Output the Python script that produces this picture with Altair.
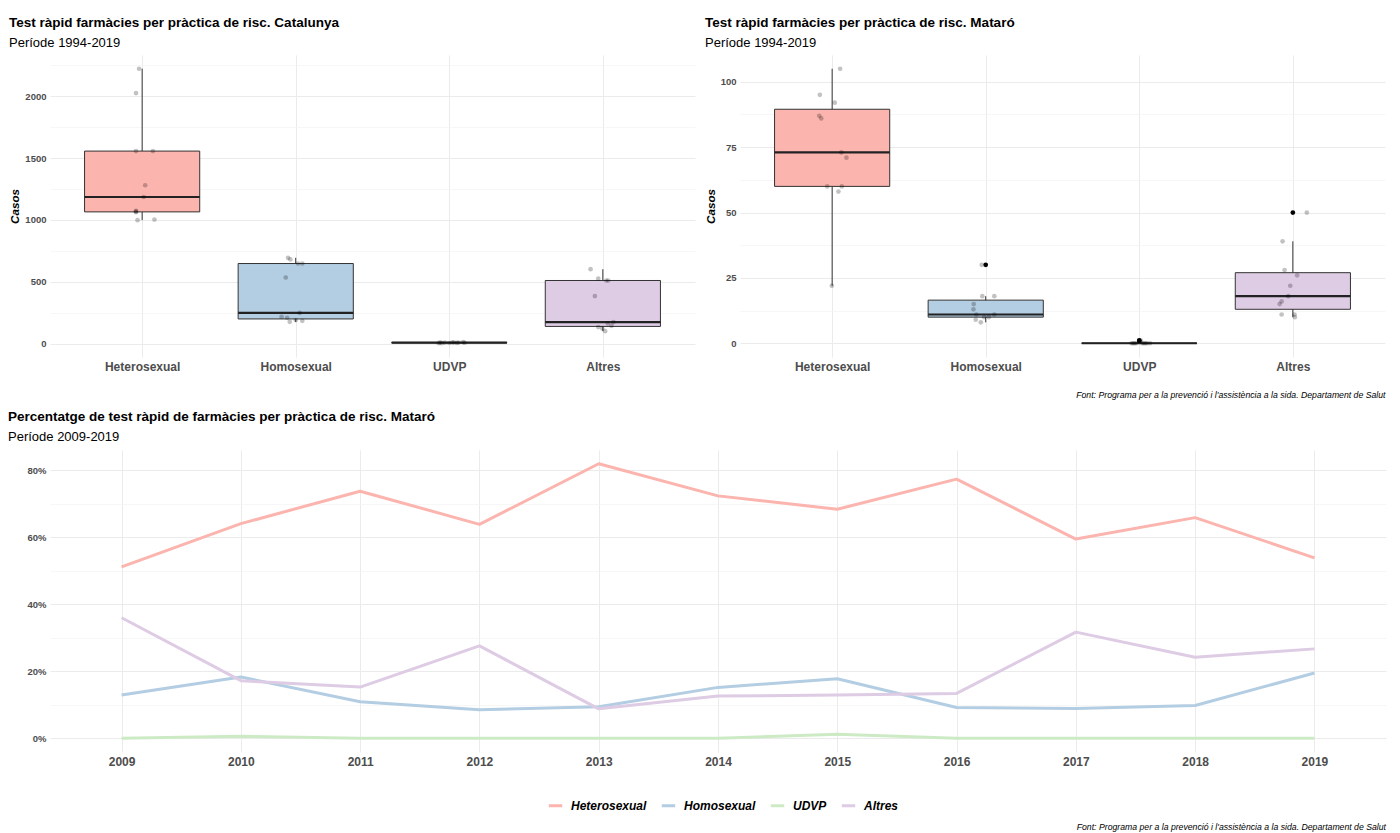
import altair as alt
import numpy as np
import pandas as pd

FONT = "Liberation Sans, Arial, sans-serif"
CATS = ["Heterosexual", "Homosexual", "UDVP", "Altres"]
COLORS = ["#FBB4AE", "#B3CDE3", "#CCEBC5", "#DECBE4"]
FOOT = "Font: Programa per a la prevenció i l'assistència a la sida. Departament de Salut"

# ---- Catalunya (cases per year, 11 points per group) ----
cat_hetero = [2221, 2024, 1556, 1556, 1280, 1185, 1073, 1068, 1062, 998, 1003]
cat_homo = [694, 681, 648, 648, 535, 250, 218, 210, 177, 191, 185]
cat_udvp = [4, 5, 6, 7, 8, 9, 10, 10, 11, 12, 14]
cat_altres = [602, 527, 511, 511, 385, 164, 175, 145, 135, 124, 102]
# horizontal jitter (category units)
cat_hetero_jit = [-0.02, -0.04, -0.04, 0.07, 0.02, 0.01, -0.04, -0.04, -0.04, -0.03, 0.08]
cat_homo_jit = [-0.05, -0.035, 0.015, 0.043, -0.065, 0.026, -0.092, -0.056, -0.039, 0.0, 0.043]
cat_udvp_jit = [-0.07, -0.05, 0.0, 0.05, 0.1, -0.03, 0.03, 0.06, -0.06, 0.02, 0.09]
cat_altres_jit = [-0.08, -0.03, 0.022, 0.035, -0.052, 0.032, 0.069, 0.056, -0.03, -0.004, 0.015]

# ---- Mataró ----
mat_hetero = [105, 95, 92, 87, 86, 73, 71, 60, 60, 58, 22]
mat_homo = [30, 18, 18, 15, 13, 11, 11, 10, 10, 9, 8]
mat_udvp = [0, 1, 0, 0, 0, 0, 1, 0, 0, 0, 0]
mat_altres = [50, 39, 28, 26, 22, 18, 16, 15, 11, 11, 10]
mat_hetero_jit = [0.052, -0.08, 0.017, -0.084, -0.071, 0.06, 0.093, -0.032, 0.063, 0.041, -0.002]
mat_homo_jit = [-0.026, -0.022, 0.056, -0.078, -0.08, -0.061, 0.056, -0.01, 0.02, -0.065, -0.032]
mat_udvp_jit = [-0.04, 0.0, -0.02, 0.03, 0.05, -0.03, 0.01, 0.07, -0.05, 0.02, 0.04]
mat_altres_jit = [0.091, -0.067, -0.054, 0.028, -0.017, -0.03, -0.073, -0.086, -0.073, 0.011, 0.013]

# ---- Percentages Mataró 2009-2019 ----
years = list(range(2009, 2020))
pct_hetero = [51.2, 64.1, 73.8, 63.9, 82.0, 72.4, 68.4, 77.4, 59.5, 65.9, 53.9]
pct_homo = [12.9, 18.3, 10.9, 8.5, 9.4, 15.2, 17.8, 9.2, 8.9, 9.8, 19.5]
pct_udvp = [0.0, 0.6, 0.0, 0.0, 0.0, 0.0, 1.2, 0.0, 0.0, 0.0, 0.0]
pct_altres = [36.0, 17.2, 15.3, 27.6, 8.8, 12.6, 12.9, 13.4, 31.7, 24.2, 26.7]

cat_major = [0, 500, 1000, 1500, 2000]
cat_minor = [250, 750, 1250, 1750, 2250]
mat_major = [0, 25, 50, 75, 100]
mat_minor = [12.5, 37.5, 62.5, 87.5]
pct_major = [0, 20, 40, 60, 80]
pct_minor = [10, 30, 50, 70]

GRID = "#EBEBEB"
MINOR = "#F3F3F3"
LABEL = "#4D4D4D"


def title_params(text, sub, offset):
    return alt.Title(text, subtitle=sub, anchor="start", fontSize=13.5, fontWeight="bold",
                     color="black", subtitleFontSize=13, subtitleColor="black",
                     subtitlePadding=8, offset=offset, font=FONT, subtitleFont=FONT)


def yaxis(major, minor, pct=False, **kw):
    vals = sorted(major + minor)
    arr = "[" + ",".join(str(m) for m in major) + "]"
    test = f"indexof({arr}, datum.value) >= 0"
    lab = "datum.value + '%'" if pct else "'' + datum.value"
    return alt.Axis(
        values=vals,
        labelExpr=f"{test} ? {lab} : ''",
        gridColor={"condition": {"test": test, "value": GRID}, "value": MINOR},
        gridWidth={"condition": {"test": test, "value": 1}, "value": 0.7},
        labelOverlap=False,
        labelFlush=False,
        labelFontSize=9.5,
        labelFontWeight="bold",
        labelColor=LABEL,
        labelPadding=4,
        **kw,
    )


def box_stats(vals):
    v = np.array(vals, dtype=float)
    q1, med, q3 = np.percentile(v, [25, 50, 75])
    iqr = q3 - q1
    lof, hif = q1 - 1.5 * iqr, q3 + 1.5 * iqr
    inside = v[(v >= lof) & (v <= hif)]
    out = v[(v < lof) | (v > hif)]
    return q1, med, q3, inside.min(), inside.max(), out


def box_panel(groups, jits, title, subtitle, major, minor, yext, xtitle=None):
    pts, stats, outs = [], [], []
    for i, (c, col, vals, jit) in enumerate(zip(CATS, COLORS, groups, jits)):
        idx = i + 1
        for v, j in zip(vals, jit):
            pts.append({"cat": c, "idx": idx, "val": v, "jit": j})
        q1, med, q3, lo, hi, out = box_stats(vals)
        stats.append({"cat": c, "col": col, "idx": idx, "q1": q1, "med": med, "q3": q3,
                      "lo": lo, "hi": hi})
        for o in out:
            outs.append({"cat": c, "idx": idx, "val": o})
    pts = pd.DataFrame(pts)
    stats = pd.DataFrame(stats)
    outs = pd.DataFrame(outs, columns=["cat", "idx", "val"])

    allv = np.concatenate([pts["val"].values, stats[["lo", "hi"]].values.ravel()])
    rng = allv.max() - allv.min()
    ydom = [allv.min() - 0.05 * rng, allv.max() + 0.05 * rng]

    xscale = alt.Scale(domain=[0.4, 4.6], nice=False, zero=False)
    yscale = alt.Scale(domain=ydom, nice=False, zero=False)
    xaxis_kw = dict(
        values=[1, 2, 3, 4],
        labelExpr="['','Heterosexual','Homosexual','UDVP','Altres'][datum.value]",
        labelFontSize=12, labelFontWeight="bold", labelColor=LABEL,
        labelPadding=4, gridColor=GRID, gridWidth=1, labelOverlap=False, labelFlush=False,
    )
    if xtitle:
        xaxis = alt.Axis(title=xtitle, titleFontSize=8.7, titleFontStyle="italic",
                         titleFontWeight="normal", titleColor="black", titleAnchor="end",
                         titlePadding=18.5, **xaxis_kw)
    else:
        xaxis = alt.Axis(title=None, **xaxis_kw)
    yaxis_obj = yaxis(major, minor, title="Casos", titleFontSize=11.7, titleFontWeight="bold",
                      titleFontStyle="italic", titleColor="black", minExtent=yext,
                      titlePadding=4)

    def X(f):
        return alt.X(f, type="quantitative", scale=xscale, axis=xaxis)

    def Y(f):
        return alt.Y(f, type="quantitative", scale=yscale, axis=yaxis_obj)

    base_s = alt.Chart(stats)
    whisk = base_s.mark_rule(color="#333333", strokeWidth=1).encode(x=X("idx"), y=Y("lo"), y2="hi")
    box = base_s.transform_calculate(
        x0="datum.idx - 0.375", x1="datum.idx + 0.375"
    ).mark_bar(stroke="#333333", strokeWidth=1).encode(
        x=X("x0"), x2="x1", y=Y("q1"), y2="q3",
        fill=alt.Fill("col:N", scale=None),
    )
    median = base_s.transform_calculate(
        x0="datum.idx - 0.375", x1="datum.idx + 0.375"
    ).mark_rule(color="#222222", strokeWidth=2.2).encode(x=X("x0"), x2="x1", y=Y("med"))
    layers = [whisk, box, median]
    if len(outs):
        layers.append(alt.Chart(outs).mark_circle(color="black", opacity=1, size=22).encode(
            x=X("idx"), y=Y("val")))
    layers.append(alt.Chart(pts).transform_calculate(xpos="datum.idx + datum.jit").mark_circle(
        color="black", opacity=0.24, size=22).encode(x=X("xpos"), y=Y("val")))
    return alt.layer(*layers).properties(width=645, height=302,
                                         title=title_params(title, subtitle, 5))


tl = box_panel([cat_hetero, cat_homo, cat_udvp, cat_altres],
               [cat_hetero_jit, cat_homo_jit, cat_udvp_jit, cat_altres_jit],
               "Test ràpid farmàcies per pràctica de risc. Catalunya", "Període 1994-2019",
               cat_major, cat_minor, 26)
tr = box_panel([mat_hetero, mat_homo, mat_udvp, mat_altres],
               [mat_hetero_jit, mat_homo_jit, mat_udvp_jit, mat_altres_jit],
               "Test ràpid farmàcies per pràctica de risc. Mataró", "Període 1994-2019",
               mat_major, mat_minor, 20, xtitle=FOOT)

# ---- line chart ----
rows = []
for c, series in zip(CATS, [pct_hetero, pct_homo, pct_udvp, pct_altres]):
    for y, p in zip(years, series):
        rows.append({"cat": c, "year": y, "pct": p})
lines_df = pd.DataFrame(rows)
pmin, pmax = lines_df["pct"].min(), lines_df["pct"].max()
prng = pmax - pmin
pdom = [pmin - 0.05 * prng, pmax + 0.05 * prng]

line = alt.Chart(lines_df).mark_line(strokeWidth=3, strokeJoin="round").encode(
    x=alt.X("year:Q", scale=alt.Scale(domain=[years[0] - 0.6, years[-1] + 0.6], nice=False, zero=False),
            axis=alt.Axis(values=years, format="d", title=None, labelFontSize=12,
                          labelFontWeight="bold", labelColor=LABEL, labelPadding=4,
                          gridColor=GRID, gridWidth=1, labelOverlap=False, labelFlush=False)),
    y=alt.Y("pct:Q", scale=alt.Scale(domain=pdom, nice=False, zero=False),
            axis=yaxis(pct_major, pct_minor, pct=True, title=None, minExtent=42)),
    color=alt.Color("cat:N", scale=alt.Scale(domain=CATS, range=COLORS), sort=CATS,
                    legend=alt.Legend(title=None, orient="none", legendX=497, legendY=742,
                                      direction="horizontal",
                                      symbolType="stroke", symbolStrokeWidth=3, symbolSize=180,
                                      labelFontSize=12, labelFontWeight="bold",
                                      labelFontStyle="italic", labelColor="black",
                                      labelFont=FONT, columnPadding=8, labelOffset=7)),
).properties(
    width=1336, height=302,
    title=title_params("Percentatge de test ràpid de farmàcies per pràctica de risc. Mataró",
                       "Període 2009-2019", 6),
)

chart = alt.vconcat(
    alt.hconcat(tl, tr, spacing=10),
    line,
    spacing=9,
    title=alt.Title(FOOT, orient="bottom", anchor="end", fontSize=8.7, fontStyle="italic",
                    fontWeight="normal", color="black", font=FONT, offset=11),
).properties(
    padding={"left": 0, "top": 7, "right": 5, "bottom": 2},
).configure(
    font=FONT,
).configure_view(
    stroke=None,
).configure_axis(
    domain=False, ticks=False, labelFont=FONT, titleFont=FONT,
)

chart.save("out.html", embed_options={"renderer": "svg", "actions": False})
